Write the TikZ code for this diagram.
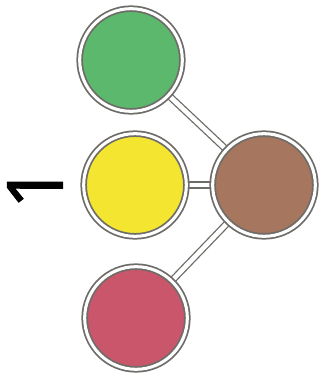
\documentclass[tikz,border=0pt]{standalone}
\usepackage{fontspec}
\newfontfamily\handfont[FakeBold=1.5]{Open Sans}
\usetikzlibrary{backgrounds}
\definecolor{ringgray}{RGB}{110,108,104}
\definecolor{ballgreen}{RGB}{92,184,108}
\definecolor{ballyellow}{RGB}{244,230,48}
\definecolor{ballred}{RGB}{201,86,106}
\definecolor{ballbrown}{RGB}{166,118,94}
\begin{document}
\begin{tikzpicture}[x=0.3mm,y=0.3mm,
    ball/.style={circle,draw=ringgray,double=white,double distance=2.6pt,line width=1.5pt,minimum size=30.8mm,inner sep=0pt},
    rod/.style={draw=ringgray,double=white,double distance=4pt,line width=1.1pt}]
\useasboundingbox (0,0) rectangle (324,383);
\node[ball,fill=ballgreen] (green) at (131,323) {};
\node[ball,fill=ballyellow] (yellow) at (135,198) {};
\node[ball,fill=ballred] (red) at (136,65) {};
\node[ball,fill=ballbrown] (brown) at (264,198) {};
\begin{scope}[on background layer]
\draw[rod] (green) -- (brown);
\draw[rod] (yellow) -- (brown);
\draw[rod] (red) -- (brown);
\end{scope}
\node[rotate=90,inner sep=0pt,font={\handfont\fontsize{66}{66}\selectfont}] (label) at (35,196) {1};
\end{tikzpicture}
\end{document}
